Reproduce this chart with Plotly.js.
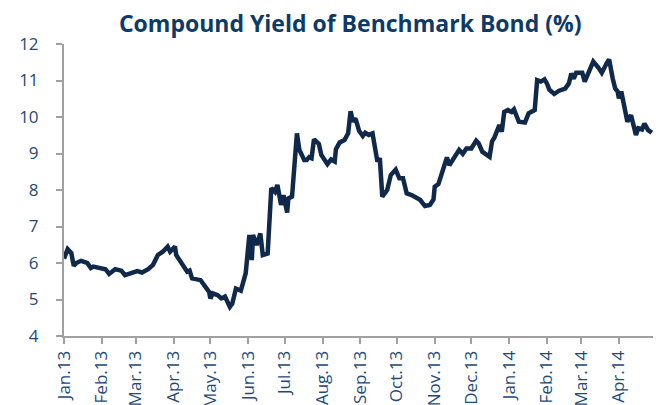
<!DOCTYPE html>
<html>
<head>
<meta charset="utf-8">
<script src="https://cdn.plot.ly/plotly-3.0.1.min.js"></script>
<style>
html,body{margin:0;padding:0;background:#fff;}
#chart{width:656px;height:405px;}
</style>
</head>
<body>
<div id="chart"></div>
<script>
const dates = [
"2013-01-01","2013-01-04","2013-01-07","2013-01-09","2013-01-11","2013-01-15","2013-01-20","2013-01-23","2013-01-25","2013-01-30",
"2013-02-04","2013-02-07","2013-02-12","2013-02-17","2013-02-20","2013-02-25","2013-03-02","2013-03-06","2013-03-11","2013-03-15",
"2013-03-19","2013-03-23","2013-03-27","2013-03-29","2013-04-02","2013-04-03","2013-04-08","2013-04-12","2013-04-14","2013-04-16",
"2013-04-23","2013-04-26","2013-04-30","2013-05-01","2013-05-03","2013-05-07","2013-05-10","2013-05-13","2013-05-17","2013-05-19",
"2013-05-22","2013-05-26","2013-05-30","2013-06-02","2013-06-04","2013-06-05","2013-06-08","2013-06-11","2013-06-13","2013-06-17",
"2013-06-18","2013-06-20","2013-06-23","2013-06-25","2013-06-28","2013-06-30","2013-07-03","2013-07-04","2013-07-07","2013-07-11",
"2013-07-13","2013-07-17","2013-07-19","2013-07-21","2013-07-23","2013-07-25","2013-07-29","2013-07-31","2013-08-05","2013-08-08",
"2013-08-11","2013-08-12","2013-08-15","2013-08-19","2013-08-22","2013-08-24","2013-08-26","2013-08-28","2013-08-31","2013-09-03",
"2013-09-05","2013-09-08","2013-09-11","2013-09-13","2013-09-15","2013-09-17","2013-09-19","2013-09-23","2013-09-26","2013-09-30",
"2013-10-03","2013-10-06","2013-10-09","2013-10-13","2013-10-20","2013-10-24","2013-10-28","2013-10-31","2013-11-01","2013-11-04",
"2013-11-08","2013-11-11","2013-11-13","2013-11-17","2013-11-21","2013-11-24","2013-11-27","2013-12-01","2013-12-05","2013-12-07",
"2013-12-10","2013-12-16","2013-12-18","2013-12-20","2013-12-22","2013-12-24","2013-12-26","2013-12-28","2013-12-31","2014-01-03",
"2014-01-05","2014-01-09","2014-01-14","2014-01-17","2014-01-22","2014-01-24","2014-01-27","2014-01-30","2014-02-01","2014-02-03",
"2014-02-07","2014-02-11","2014-02-16","2014-02-19","2014-02-21","2014-02-23","2014-02-25","2014-03-02","2014-03-04","2014-03-06",
"2014-03-11","2014-03-15","2014-03-18","2014-03-22","2014-03-24","2014-03-27","2014-03-29","2014-03-31","2014-04-01","2014-04-03",
"2014-04-05","2014-04-08","2014-04-11","2014-04-15","2014-04-17","2014-04-20","2014-04-22","2014-04-25","2014-04-28"
];
const yieldPct = [
6.12,6.38,6.27,5.92,6.00,6.06,6.00,5.86,5.90,5.86,
5.83,5.70,5.83,5.79,5.67,5.72,5.78,5.74,5.83,5.95,
6.22,6.31,6.45,6.31,6.45,6.22,5.99,5.76,5.79,5.58,
5.53,5.40,5.21,5.03,5.17,5.12,5.03,5.08,4.80,4.89,
5.30,5.24,5.72,6.77,6.08,6.77,6.49,6.81,6.22,6.26,
6.81,8.05,7.95,8.14,7.59,7.86,7.38,7.77,7.82,9.55,
9.10,8.82,8.82,8.90,8.87,9.39,9.26,8.96,8.71,8.84,
8.78,9.12,9.30,9.37,9.55,10.16,9.87,9.96,9.62,9.48,
9.57,9.51,9.55,9.10,8.78,8.87,7.82,8.00,8.41,8.56,
8.32,8.32,7.91,7.86,7.73,7.56,7.59,7.74,8.09,8.16,
8.60,8.89,8.68,8.91,9.10,8.99,9.14,9.14,9.35,9.28,
9.05,8.91,9.33,9.44,9.64,9.78,9.60,10.14,10.19,10.14,
10.21,9.87,9.85,10.10,10.19,11.01,10.97,11.03,10.92,10.75,
10.63,10.72,10.78,10.92,11.19,11.05,11.21,11.21,10.97,11.11,
11.52,11.36,11.21,11.47,11.58,11.05,10.78,10.70,10.51,10.70,
10.42,9.87,10.05,9.51,9.69,9.66,9.82,9.64,9.57
];
const tickDates = ["2013-01-01","2013-02-01","2013-03-01","2013-04-01","2013-05-01","2013-06-01","2013-07-01","2013-08-01","2013-09-01","2013-10-01","2013-11-01","2013-12-01","2014-01-01","2014-02-01","2014-03-01","2014-04-01"];
const tickLabels = ["Jan.13","Feb.13","Mar.13","Apr.13","May.13","Jun.13","Jul.13","Aug.13","Sep.13","Oct.13","Nov.13","Dec.13","Jan.14","Feb.14","Mar.14","Apr.14"];
const yTicks = [4,5,6,7,8,9,10,11,12];

const labelColor = "#1f4a78";
const axisGrey = "#a0a0a0";

Plotly.newPlot("chart", [{
  x: dates, y: yieldPct, type: "scatter", mode: "lines",
  line: {color: "#10284a", width: 4.5, shape: "linear"},
  hoverinfo: "skip"
}], {
  width: 656, height: 405,
  margin: {l: 64, r: 3, t: 44, b: 69},
  paper_bgcolor: "#fff", plot_bgcolor: "#fff",
  showlegend: false,
  title: {
    text: "<b>Compound Yield of Benchmark Bond (%)</b>",
    font: {family: "Open Sans", size: 23, color: "#0d3a66"},
    x: 0.486, xanchor: "center", y: 0.94, yanchor: "middle", xref: "paper"
  },
  xaxis: {
    type: "date",
    range: ["2013-01-01", "2014-04-29"],
    tickmode: "array", tickvals: tickDates, ticktext: tickLabels,
    tickangle: -90, ticks: "outside", ticklen: 6, tickwidth: 2, tickcolor: axisGrey,
    showline: true, linecolor: axisGrey, linewidth: 2,
    showgrid: false, zeroline: false,
    tickfont: {family: "Open Sans", size: 17, color: labelColor}
  },
  yaxis: {
    range: [4, 12], tickmode: "array", tickvals: yTicks,
    ticks: "outside", ticklen: 6, tickwidth: 2, tickcolor: axisGrey,
    showline: true, linecolor: axisGrey, linewidth: 2,
    showgrid: false, zeroline: false,
    ticklabelstandoff: 14,
    tickfont: {family: "Open Sans", size: 17, color: labelColor}
  }
}, {staticPlot: true, displayModeBar: false});
</script>
</body>
</html>
